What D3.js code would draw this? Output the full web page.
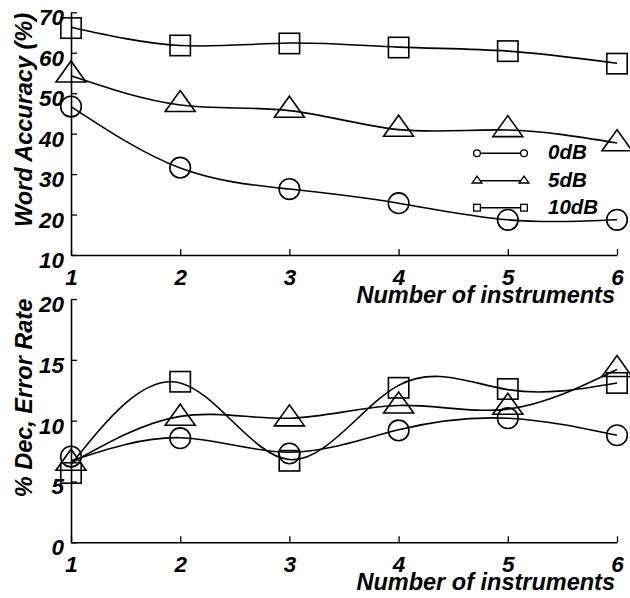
<!DOCTYPE html>
<html>
<head>
<meta charset="utf-8">
<script src="https://cdn.jsdelivr.net/npm/d3@7"></script>
<style>
  html, body { margin: 0; padding: 0; background: #fff; }
  svg { display: block; }
  text { font-family: "Liberation Sans", Arial, sans-serif; font-weight: bold; font-style: italic; fill: #000; }
</style>
</head>
<body>
<svg id="chart" width="630" height="598"></svg>
<script>
// ---------------- data ----------------
const instruments = [1, 2, 3, 4, 5, 6];
const seriesNames = ["0dB", "5dB", "10dB"];

// Word accuracy (%) - marker values
const acc0dB  = [46.7, 31.6, 26.3, 22.8, 18.7, 18.7];
const acc5dB  = [54.5, 47.2, 45.8, 41.1, 41.0, 37.5];
const acc10dB = [66.1, 61.8, 62.3, 61.3, 60.4, 57.3];
// Word accuracy (%) - fitted curve values at each x
const acc0dBFit  = [46.7, 31.5, 26.3, 22.8, 18.7, 18.7];
const acc5dBFit  = [54.3, 47.1, 45.7, 41.0, 40.9, 37.7];
const acc10dBFit = [66.3, 61.8, 62.4, 61.4, 60.4, 57.4];

// % decrease in error rate - marker values
const err0dB  = [7.05, 8.56, 7.3, 9.2, 10.2, 8.8];
const err5dB  = [6.5, 10.2, 10.15, 11.2, 11.1, 14.2];
const err10dB = [5.7, 13.2, 6.7, 12.7, 12.6, 13.1];
// % decrease in error rate - fitted curve values at each x
const err0dBFit  = [6.7, 8.6, 7.4, 9.25, 10.2, 8.8];
const err5dBFit  = [6.5, 10.35, 10.2, 11.25, 10.95, 14.2];
const err10dBFit = [6.4, 13.1, 6.8, 12.9, 12.55, 13.1];

const accTicks = [10, 20, 30, 40, 50, 60, 70];
const errTicks = [0, 5, 10, 15, 20];
const xTicks = [1, 2, 3, 4, 5, 6];

const xTitle = "Number of instruments";
const accTitle = "Word Accuracy (%)";
const errTitle = "% Dec, Error Rate";

// ---------------- drawing ----------------
const svg = d3.select("#chart");
const x = d3.scaleLinear().domain([1, 6]).range([71, 617]);
const yTop = d3.scaleLinear().domain([10, 70]).range([255, 12.3]);
const yBot = d3.scaleLinear().domain([0, 20]).range([542.3, 299]);

const markerShapes = ["circle", "triangle", "square"];

function drawMarker(g, shape, cx, cy, big) {
  const s = big ? 1 : 0.33;
  if (shape === "circle") {
    g.append("circle").attr("cx", cx).attr("cy", cy).attr("r", 10.3 * s);
  } else if (shape === "triangle") {
    const h1 = 14 * s, h2 = 7 * s, w = 15 * s;
    g.append("path").attr("d", `M${cx},${cy - h1}L${cx + w},${cy + h2}L${cx - w},${cy + h2}Z`);
  } else {
    const a = 10.2 * s;
    g.append("rect").attr("x", cx - a).attr("y", cy - a).attr("width", 2 * a).attr("height", 2 * a);
  }
}

function panel(y, ticks, markersData, fitData, yTitle, titleY, xTitleBaseline) {
  const g = svg.append("g");
  // axes
  const yAxis = d3.axisLeft(y).tickValues(ticks).tickFormat(d3.format("d"))
    .tickSizeInner(-6).tickSizeOuter(0).tickPadding(7);
  const ga = g.append("g").attr("transform", `translate(${x(1)},0)`).call(yAxis);
  ga.selectAll("text").attr("font-size", 22.5).attr("dy", "0.32em").attr("y", 5.3);
  const xAxis = d3.axisBottom(x).tickValues(xTicks).tickFormat(d3.format("d"))
    .tickSizeInner(-6).tickSizeOuter(0).tickPadding(14);
  const gx = g.append("g").attr("transform", `translate(0,${y.range()[0]})`).call(xAxis);
  gx.selectAll("text").attr("font-size", 22.5);
  g.selectAll(".domain").attr("stroke", "#000").attr("stroke-width", 1.6);
  g.selectAll(".tick line").attr("stroke", "#000").attr("stroke-width", 1.3);
  g.selectAll(".tick text").attr("fill", "#000");

  // curves
  const line = d3.line().x((d, i) => x(instruments[i])).y(d => y(d)).curve(d3.curveNatural);
  fitData.forEach(arr => {
    g.append("path").attr("d", line(arr)).attr("fill", "none").attr("stroke", "#000").attr("stroke-width", 1.6);
  });
  // markers
  markersData.forEach((arr, k) => {
    const mg = g.append("g").attr("fill", "none").attr("stroke", "#000").attr("stroke-width", 1.6);
    arr.forEach((v, i) => drawMarker(mg, markerShapes[k], x(instruments[i]), y(v), true));
  });

  // titles
  g.append("text").attr("transform", `translate(32,${titleY}) rotate(-90)`)
    .attr("text-anchor", "middle").attr("font-size", 23.5).text(yTitle);
  g.append("text").attr("x", 615).attr("y", xTitleBaseline)
    .attr("text-anchor", "end").attr("font-size", 23.5).text(xTitle);
}

panel(yTop, accTicks, [acc0dB, acc5dB, acc10dB], [acc0dBFit, acc5dBFit, acc10dBFit], accTitle, 120, 303);
panel(yBot, errTicks, [err0dB, err5dB, err10dB], [err0dBFit, err5dBFit, err10dBFit], errTitle, 398, 590);

// legend
const legendRows = [153.3, 180.7, 207.7];
const lg = svg.append("g");
seriesNames.forEach((name, k) => {
  const ry = legendRows[k];
  lg.append("line").attr("x1", 477).attr("x2", 524).attr("y1", ry).attr("y2", ry)
    .attr("stroke", "#000").attr("stroke-width", 1.4);
  const mg = lg.append("g").attr("fill", "#fff").attr("stroke", "#000").attr("stroke-width", 1.3);
  drawMarker(mg, markerShapes[k], 477, ry, false);
  drawMarker(mg, markerShapes[k], 524, ry, false);
  lg.append("text").attr("x", 548).attr("y", ry + 6).attr("font-size", 20.5).text(name);
});
</script>
</body>
</html>
